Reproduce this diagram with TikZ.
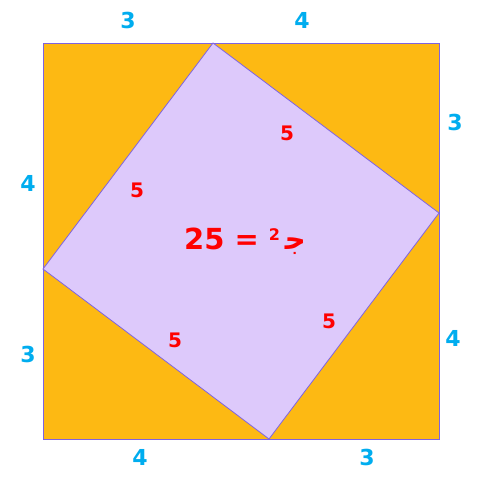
\documentclass[tikz,border=0pt]{standalone}
\usepackage{fontspec}
\setmainfont{DejaVu Sans}
\newfontfamily\arabicfont[Script=Arabic]{DejaVu Sans}
\TeXXeTstate=1
\definecolor{orangefill}{HTML}{FDB913}
\definecolor{lavfill}{HTML}{DDC9FB}
\definecolor{edgepurple}{HTML}{7E63E0}
\definecolor{labblue}{HTML}{00ADEF}
\definecolor{labred}{HTML}{FF0000}
\tikzset{
  sidelab/.style={text=labblue, font=\bfseries\fontsize{22}{26}\selectfont, inner sep=0pt},
  hyplab/.style={text=labred, font=\bfseries\fontsize{20}{24}\selectfont, inner sep=0pt},
}
\begin{document}
\begin{tikzpicture}[x=1pt,y=-1pt]
\useasboundingbox (0,0) rectangle (479,479);
\fill[white] (0,0) rectangle (479,479);
\draw[edgepurple, fill=orangefill, line width=0.8pt] (43,43) rectangle (439,439);
\coordinate (T) at (213,43);
\coordinate (R) at (439,213);
\coordinate (B) at (269,439);
\coordinate (L) at (43,269);
\draw[edgepurple, fill=lavfill, line width=0.8pt] (T) -- (R) -- (B) -- (L) -- cycle;
\node[sidelab] (t3) at (128,20) {3};
\node[sidelab] (t4) at (302,20) {4};
\node[sidelab] (r3) at (455,122) {3};
\node[sidelab] (r4) at (453,338) {4};
\node[sidelab] (b4) at (140,457) {4};
\node[sidelab] (b3) at (367,457) {3};
\node[sidelab] (l4) at (28,183) {4};
\node[sidelab] (l3) at (28,354) {3};
\node[hyplab] (h1) at (287,133) {5};
\node[hyplab] (h2) at (137,190) {5};
\node[hyplab] (h3) at (175,340) {5};
\node[hyplab] (h4) at (329,321) {5};
\node[text=labred, font=\bfseries\fontsize{29}{33}\selectfont, inner sep=0pt] (eq) at (245,241)
  {25 = \raisebox{0.55ex}{\fontsize{16}{18}\selectfont 2}\,{\arabicfont\beginR ج‍\endR}};
\end{tikzpicture}
\end{document}
